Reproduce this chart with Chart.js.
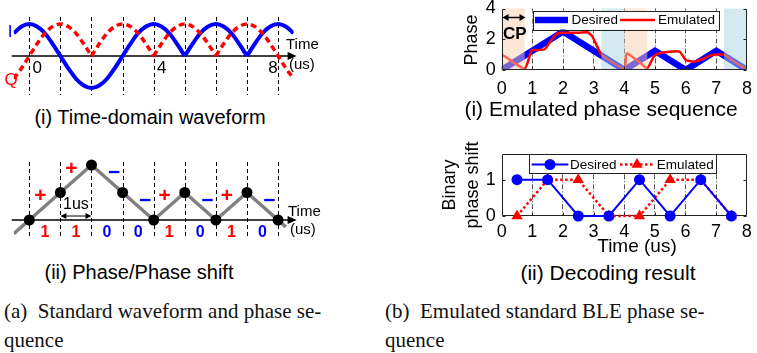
<!DOCTYPE html>
<html>
<head>
<meta charset="utf-8">
<script src="https://cdn.jsdelivr.net/npm/chart.js@4.4.0/dist/chart.umd.min.js"></script>
<style>
  body { margin: 0; background: #fff; }
  #wrap { position: relative; width: 757px; height: 353px; overflow: hidden; font-family: "Liberation Sans", Arial, sans-serif; }
  canvas { position: absolute; }
  .cap { position: absolute; white-space: nowrap; transform: translate(-50%, -50%); line-height: 1; color: #000; }
  .sub { position: absolute; white-space: nowrap; font-family: "Liberation Serif", "Times New Roman", serif; font-size: 21px; line-height: 1; color: #111; }
</style>
</head>
<body>
<div id="wrap">
  <canvas id="wave" width="330" height="100" style="left:0;top:0"></canvas>
  <canvas id="phase" width="330" height="110" style="left:0;top:140px"></canvas>
  <canvas id="emu" width="337" height="100" style="left:420px;top:0"></canvas>
  <canvas id="dec" width="337" height="120" style="left:420px;top:140px"></canvas>

  <div class="cap" style="left:150px;top:117px;font-size:20px">(i) Time-domain waveform</div>
  <div class="cap" style="left:139px;top:272px;font-size:20px">(ii) Phase/Phase shift</div>
  <div class="cap" style="left:601px;top:108px;font-size:21px">(i) Emulated phase sequence</div>
  <div class="cap" style="left:608px;top:272px;font-size:21px">(ii) Decoding result</div>

  <div class="sub" style="left:4px;top:301px">(a)&nbsp; Standard waveform and phase se-</div>
  <div class="sub" style="left:4px;top:330px">quence</div>
  <div class="sub" style="left:385px;top:301px">(b)&nbsp; Emulated standard BLE phase se-</div>
  <div class="sub" style="left:385px;top:330px">quence</div>
</div>

<script>
// (i) time-domain waveform, read every 0.25 us
const waveT = [-0.5, -0.25, 0, 0.25, 0.5, 0.75, 1, 1.25, 1.5, 1.75, 2, 2.25, 2.5, 2.75, 3, 3.25, 3.5, 3.75,
               4, 4.25, 4.5, 4.75, 5, 5.25, 5.5, 5.75, 6, 6.25, 6.5, 6.75, 7, 7.25, 7.5, 7.75, 8, 8.25, 8.5];
const waveI = [0.71, 0.92, 1, 0.92, 0.71, 0.38, 0, -0.38, -0.71, -0.92, -1, -0.92, -0.71, -0.38, 0, 0.38, 0.71, 0.92,
               1, 0.92, 0.71, 0.38, 0, 0.38, 0.71, 0.92, 1, 0.92, 0.71, 0.38, 0, 0.38, 0.71, 0.92, 1, 0.92, 0.71];
const waveQ = [-0.71, -0.38, 0, 0.38, 0.71, 0.92, 1, 0.92, 0.71, 0.38, 0, 0.38, 0.71, 0.92, 1, 0.92, 0.71, 0.38,
               0, 0.38, 0.71, 0.92, 1, 0.92, 0.71, 0.38, 0, 0.38, 0.71, 0.92, 1, 0.92, 0.71, 0.38, 0, -0.38, -0.71];
const iCusps = [5, 7];
const qCusps = [2, 4, 6];
const waveTicks = ['0', '4', '8'];

// (ii) phase, in units of pi/2
const phaseT = [-0.5, 0, 1, 2, 3, 4, 5, 6, 7, 8, 8.25];
const phaseV = [-0.5, 0, 1, 2, 1, 0, 1, 0, 1, 0, -0.25];
const bits = [1, 1, 0, 0, 1, 0, 1, 0];

// (b)(i) emulated phase sequence
const seqT = [0, 1, 2, 3, 4, 5, 6, 7, 8];
const desiredPhase = [0, 1.25, 2.5, 1.25, 0, 1.25, 0, 1.25, 0];
const emuT = [0, 0.2, 0.45, 0.75, 0.85, 0.98, 1.15, 1.4, 1.6, 1.8, 2.0, 2.5, 2.8, 2.95, 3.25, 3.5, 3.75, 4.0,
              4.08, 4.3, 4.5, 4.75, 4.95, 5.1, 5.4, 5.8, 6.0, 6.3, 6.6, 6.85, 7.25, 7.5, 7.75, 8.0];
const emuPhase = [1.0, 0.75, 0.4, 0.1, 0.5, 1.28, 1.3, 1.35, 1.9, 2.35, 2.42, 2.42, 2.45, 2.2, 1.0, 0.65, 0.33, 0.05,
                  1.08, 0.8, 0.5, 0.12, 0.85, 1.07, 1.17, 1.2, 0.65, 0.55, 0.75, 0.97, 1.0, 0.65, 0.33, 0.05];
const phaseTicks = [0, 2, 4];
const cpSpans = [[0, 0.75], [4, 4.75]];
const copySpans = [[3.25, 4], [7.25, 8]];

// (b)(ii) decoding result
const bitT = [0.5, 1.5, 2.5, 3.5, 4.5, 5.5, 6.5, 7.5];
const desiredBits = [1, 1, 0, 0, 1, 0, 1, 0];
const emulatedBits = [0, 1, 1, 0, 0, 1, 1, 0];
const bitTicks = [0, 1];

const BLUE = '#0000ff', RED = '#ff0000', FONT = '"Liberation Sans", Arial, sans-serif';
Chart.defaults.font.family = FONT;
Chart.defaults.color = '#000';
Chart.defaults.animation = false;
Chart.defaults.plugins.legend.display = false;
Chart.defaults.plugins.tooltip.enabled = false;

function pts(ts, vs) { return ts.map((t, k) => ({x: t, y: vs[k]})); }

// split a curve at its cusps so each piece is smoothed on its own
function split(ts, vs, cuts) {
  const out = [];
  let cur = [];
  ts.forEach((t, k) => {
    cur.push({x: t, y: vs[k]});
    if (cuts.includes(t)) { out.push(cur); cur = [{x: t, y: vs[k]}]; }
  });
  out.push(cur);
  return out;
}

function txt(ctx, s, x, y, size, color, opts) {
  opts = opts || {};
  ctx.save();
  ctx.font = (opts.bold ? 'bold ' : '') + size + 'px ' + FONT;
  ctx.fillStyle = color || '#000';
  ctx.textAlign = opts.align || 'center';
  ctx.textBaseline = 'middle';
  if (opts.rot) { ctx.translate(x, y); ctx.rotate(-Math.PI / 2); ctx.fillText(s, 0, 0); }
  else ctx.fillText(s, x, y);
  ctx.restore();
}

function head(ctx, x, y, dir, len, half) {
  ctx.beginPath();
  ctx.moveTo(x, y);
  ctx.lineTo(x - dir * len, y - half);
  ctx.lineTo(x - dir * len, y + half);
  ctx.closePath();
  ctx.fill();
}

function timeAxis(ctx, c, y0) {
  const a = c.chartArea;
  ctx.save();
  ctx.strokeStyle = '#000'; ctx.fillStyle = '#000'; ctx.lineWidth = 1.5;
  ctx.beginPath(); ctx.moveTo(a.left - 2, y0); ctx.lineTo(a.right - 4, y0); ctx.stroke();
  head(ctx, a.right + 3, y0, 1, 9, 4);
  ctx.restore();
}

function vDashes(ctx, c, yTop, yBot) {
  const x = c.scales.x;
  ctx.save();
  ctx.strokeStyle = '#000'; ctx.lineWidth = 1; ctx.setLineDash([4, 3]);
  for (let t = 0; t <= 8; t++) {
    const px = Math.round(x.getPixelForValue(t)) + 0.5;
    ctx.beginPath(); ctx.moveTo(px, yTop); ctx.lineTo(px, yBot); ctx.stroke();
  }
  ctx.restore();
}

// ---------- (a)(i) waveform ----------
const wavePlugin = {
  id: 'waveDeco',
  beforeDatasetsDraw(c) {
    const ctx = c.ctx, y = c.scales.y;
    vDashes(ctx, c, y.getPixelForValue(1.22), y.getPixelForValue(-1.22));
    timeAxis(ctx, c, y.getPixelForValue(0));
  },
  afterDraw(c) {
    const ctx = c.ctx, x = c.scales.x, y0 = c.scales.y.getPixelForValue(0);
    txt(ctx, waveTicks[0], x.getPixelForValue(0) + 8, y0 + 12, 17);
    txt(ctx, waveTicks[1], x.getPixelForValue(4) + 8, y0 + 12, 17);
    txt(ctx, waveTicks[2], x.getPixelForValue(8) - 5, y0 + 12, 17);
    txt(ctx, 'I', 10, 32, 17, BLUE);
    txt(ctx, 'Q', 11, 80, 17, RED);
    txt(ctx, 'Time', 286, 45, 15, '#000', {align: 'left'});
    txt(ctx, '(us)', 289, 65, 15, '#000', {align: 'left'});
  }
};

new Chart(document.getElementById('wave'), {
  type: 'line',
  data: {
    datasets: [
      ...split(waveT, waveI, iCusps).map(d => ({
        data: d, borderColor: BLUE, borderWidth: 4, pointRadius: 0, cubicInterpolationMode: 'monotone', order: 2
      })),
      ...split(waveT, waveQ, qCusps).map(d => ({
        data: d, borderColor: RED, borderWidth: 3.5, borderDash: [6, 4], pointRadius: 0, cubicInterpolationMode: 'monotone', order: 1
      }))
    ]
  },
  options: {
    responsive: false,
    layout: {padding: {left: 13.75, right: 36.4, top: 16, bottom: 4}},
    scales: {
      x: {type: 'linear', min: -0.5, max: 8.5, display: false},
      y: {min: -1.25, max: 1.25, display: false}
    }
  },
  plugins: [wavePlugin]
});

// ---------- (a)(ii) phase / phase shift ----------
const phasePlugin = {
  id: 'phaseDeco',
  beforeDatasetsDraw(c) {
    const ctx = c.ctx, y = c.scales.y;
    vDashes(ctx, c, y.getPixelForValue(2.11), y.getPixelForValue(-0.655));
    timeAxis(ctx, c, y.getPixelForValue(0));
  },
  afterDraw(c) {
    const ctx = c.ctx, x = c.scales.x, y = c.scales.y, y0 = y.getPixelForValue(0);
    // 1us marker
    const xa = x.getPixelForValue(1), xb = x.getPixelForValue(2), ya = y0 - 4;
    ctx.save();
    ctx.strokeStyle = '#000'; ctx.fillStyle = '#000'; ctx.lineWidth = 1;
    ctx.beginPath(); ctx.moveTo(xa + 3, ya); ctx.lineTo(xb - 3, ya); ctx.stroke();
    head(ctx, xa, ya, -1, 6, 3); head(ctx, xb, ya, 1, 6, 3);
    ctx.restore();
    txt(ctx, '1us', (xa + xb) / 2, y0 - 15, 16);
    bits.forEach((b, i) => {
      const xm = x.getPixelForValue(i + 0.5);
      const col = b ? RED : BLUE;
      txt(ctx, String(b), xm, y0 + 13, 16, col, {bold: true});
      const ym = y.getPixelForValue((phaseV[i + 1] + phaseV[i + 2]) / 2);
      if (b) txt(ctx, '+', xm - 4.5, ym - 10, 21, col, {bold: true});
      else txt(ctx, '\u2212', xm + 7, ym - 5.5, 21, col, {bold: true});
    });
    txt(ctx, 'Time', 288, 72, 15, '#000', {align: 'left'});
    txt(ctx, '(us)', 290, 90, 15, '#000', {align: 'left'});
  }
};

new Chart(document.getElementById('phase'), {
  type: 'line',
  data: {
    datasets: [{
      data: pts(phaseT, phaseV),
      borderColor: '#808080', borderWidth: 3.5,
      pointRadius: ctx => Number.isInteger(phaseT[ctx.dataIndex]) ? 5.5 : 0,
      pointBackgroundColor: '#000', pointBorderColor: '#000', pointBorderWidth: 0
    }]
  },
  options: {
    responsive: false,
    layout: {padding: {left: 13.75, right: 36.4, top: 14, bottom: 10.75}},
    scales: {
      x: {type: 'linear', min: -0.5, max: 8.5, display: false},
      y: {min: -0.7, max: 2.4, display: false}
    }
  },
  plugins: [phasePlugin]
});

// ---------- shared matlab-style axes ----------
function matAxes(yMin, yMax, yTicks, xPad) {
  return {
    x: {
      type: 'linear', min: 0, max: 8,
      ticks: {stepSize: 1, font: {size: 18}, padding: xPad, maxRotation: 0, autoSkip: false},
      grid: {drawTicks: false, lineWidth: 1, color: c => (c.tick && c.tick.value > 0 && c.tick.value < 8) ? '#555' : 'rgba(0,0,0,0)'},
      border: {display: false, dash: [5, 2, 1, 2]},
      afterFit: s => { s.height = 30; s.paddingLeft = 0; s.paddingRight = 0; }
    },
    y: {
      min: yMin, max: yMax,
      afterBuildTicks: s => { s.ticks = yTicks.map(v => ({value: v})); },
      ticks: {font: {size: 18}, padding: 6},
      grid: {display: false, drawTicks: false},
      border: {display: false},
      afterFit: s => { s.width = 30; s.paddingTop = 0; s.paddingBottom = 0; }
    }
  };
}

function frame(c, sides, yTicks) {
  const ctx = c.ctx, a = c.chartArea, x = c.scales.x, y = c.scales.y;
  ctx.save();
  ctx.strokeStyle = '#222'; ctx.lineWidth = 1;
  const L = Math.round(a.left) + 0.5, R = Math.round(a.right) - 0.5, T = Math.round(a.top) + 0.5, B = Math.round(a.bottom) - 0.5;
  ctx.beginPath();
  ctx.moveTo(L, T); ctx.lineTo(L, B); ctx.lineTo(R, B); ctx.lineTo(R, T);
  if (sides === 4) ctx.lineTo(L, T);
  ctx.stroke();
  ctx.beginPath();
  yTicks.forEach(v => {
    const p = Math.round(y.getPixelForValue(v)) + 0.5;
    ctx.moveTo(L, p); ctx.lineTo(L + 3, p);
    ctx.moveTo(R, p); ctx.lineTo(R - 3, p);
  });
  for (let t = 1; t < 8; t++) {
    const p = Math.round(x.getPixelForValue(t)) + 0.5;
    ctx.moveTo(p, B); ctx.lineTo(p, B - 3);
    if (sides === 4) { ctx.moveTo(p, T); ctx.lineTo(p, T + 3); }
  }
  ctx.stroke();
  ctx.restore();
}

function legendBox(ctx, x1, y1, x2, y2) {
  ctx.save();
  ctx.fillStyle = '#fff'; ctx.fillRect(x1, y1, x2 - x1, y2 - y1);
  ctx.strokeStyle = '#222'; ctx.lineWidth = 1;
  ctx.strokeRect(Math.round(x1) + 0.5, Math.round(y1) + 0.5, Math.round(x2 - x1), Math.round(y2 - y1));
  ctx.restore();
}

// ---------- (b)(i) emulated phase sequence ----------
const emuPlugin = {
  id: 'emuDeco',
  afterDatasetsDraw(c) {
    const ctx = c.ctx, a = c.chartArea, x = c.scales.x;
    ctx.save();
    ctx.fillStyle = 'rgba(250, 205, 172, 0.5)';
    cpSpans.forEach(s => {
      const x1 = x.getPixelForValue(s[0]), x2 = x.getPixelForValue(s[1]);
      ctx.fillRect(x1, a.top, x2 - x1, a.bottom - a.top);
    });
    ctx.fillStyle = 'rgba(170, 212, 226, 0.5)';
    copySpans.forEach(s => {
      const x1 = x.getPixelForValue(s[0]), x2 = x.getPixelForValue(s[1]);
      ctx.fillRect(x1, a.top, x2 - x1, a.bottom - a.top);
    });
    ctx.restore();
    frame(c, 3, phaseTicks);
  },
  afterDraw(c) {
    const ctx = c.ctx;
    legendBox(ctx, 112.7, 10.7, 299, 29.5);
    ctx.save();
    ctx.lineCap = 'butt';
    ctx.strokeStyle = BLUE; ctx.lineWidth = 6.5;
    ctx.beginPath(); ctx.moveTo(115, 20); ctx.lineTo(148, 20); ctx.stroke();
    ctx.strokeStyle = RED; ctx.lineWidth = 2.5;
    ctx.beginPath(); ctx.moveTo(200, 20); ctx.lineTo(235, 20); ctx.stroke();
    ctx.restore();
    txt(ctx, 'Desired', 151.5, 20.5, 13.5, '#000', {align: 'left'});
    txt(ctx, 'Emulated', 238, 20.5, 13.5, '#000', {align: 'left'});
    // CP marker
    ctx.save();
    ctx.strokeStyle = '#000'; ctx.fillStyle = '#000'; ctx.lineWidth = 1.5;
    ctx.beginPath(); ctx.moveTo(86, 17.5); ctx.lineTo(102, 17.5); ctx.stroke();
    head(ctx, 82.5, 17.5, -1, 6, 3.5); head(ctx, 105.5, 17.5, 1, 6, 3.5);
    ctx.restore();
    txt(ctx, 'CP', 83, 34.5, 17, '#000', {align: 'left', bold: true});
    txt(ctx, 'Phase', 52, 40, 18, '#000', {rot: true});
  }
};

new Chart(document.getElementById('emu'), {
  type: 'line',
  data: {
    datasets: [
      {data: pts(emuT, emuPhase), borderColor: RED, borderWidth: 2.5, pointRadius: 0, tension: 0.2, order: 1},
      {data: pts(seqT, desiredPhase), borderColor: BLUE, borderWidth: 6.5, pointRadius: 0, order: 2}
    ]
  },
  options: {
    responsive: false,
    layout: {padding: {left: 51.7, right: 10, top: 8.5, bottom: 0}},
    scales: matAxes(0, 4, phaseTicks, 8)
  },
  plugins: [emuPlugin]
});

// ---------- (b)(ii) decoding result ----------
const decPlugin = {
  id: 'decDeco',
  beforeDatasetsDraw(c) { frame(c, 4, bitTicks); },
  afterDraw(c) {
    const ctx = c.ctx;
    legendBox(ctx, 109.3, 14.3, 296.7, 33.3);
    ctx.save();
    ctx.strokeStyle = BLUE; ctx.lineWidth = 2;
    ctx.beginPath(); ctx.moveTo(111.7, 24.5); ctx.lineTo(148.3, 24.5); ctx.stroke();
    ctx.fillStyle = BLUE;
    ctx.beginPath(); ctx.arc(130, 24.5, 5.5, 0, Math.PI * 2); ctx.fill();
    ctx.strokeStyle = RED; ctx.lineWidth = 2.5; ctx.setLineDash([2.5, 2.5]);
    ctx.beginPath(); ctx.moveTo(200, 24.5); ctx.lineTo(235, 24.5); ctx.stroke();
    ctx.fillStyle = RED;
    ctx.beginPath(); ctx.moveTo(217, 18); ctx.lineTo(222.6, 27.75); ctx.lineTo(211.4, 27.75); ctx.closePath(); ctx.fill();
    ctx.restore();
    txt(ctx, 'Desired', 150, 25, 13.5, '#000', {align: 'left'});
    txt(ctx, 'Emulated', 236.7, 25, 13.5, '#000', {align: 'left'});
    txt(ctx, 'Binary', 30, 45, 18, '#000', {rot: true});
    txt(ctx, 'phase shift', 53, 45, 18, '#000', {rot: true});
    txt(ctx, 'Time (us)', 217, 107, 19);
  }
};

new Chart(document.getElementById('dec'), {
  type: 'line',
  data: {
    datasets: [
      {data: pts(bitT, desiredBits), borderColor: BLUE, borderWidth: 2, pointStyle: 'circle', pointRadius: 5.5,
       pointBackgroundColor: BLUE, pointBorderColor: BLUE, pointBorderWidth: 0, clip: false, order: 1},
      {data: pts(bitT, emulatedBits), borderColor: RED, borderWidth: 2.5, borderDash: [2.5, 2.5], pointStyle: 'triangle',
       pointRadius: 6.5, pointBackgroundColor: RED, pointBorderColor: RED, pointBorderWidth: 0, clip: false, order: 2}
    ]
  },
  options: {
    responsive: false,
    layout: {padding: {left: 51.7, right: 10.3, top: 14.3, bottom: 14}},
    scales: matAxes(0, 1.7, bitTicks, 5)
  },
  plugins: [decPlugin]
});
</script>
</body>
</html>
